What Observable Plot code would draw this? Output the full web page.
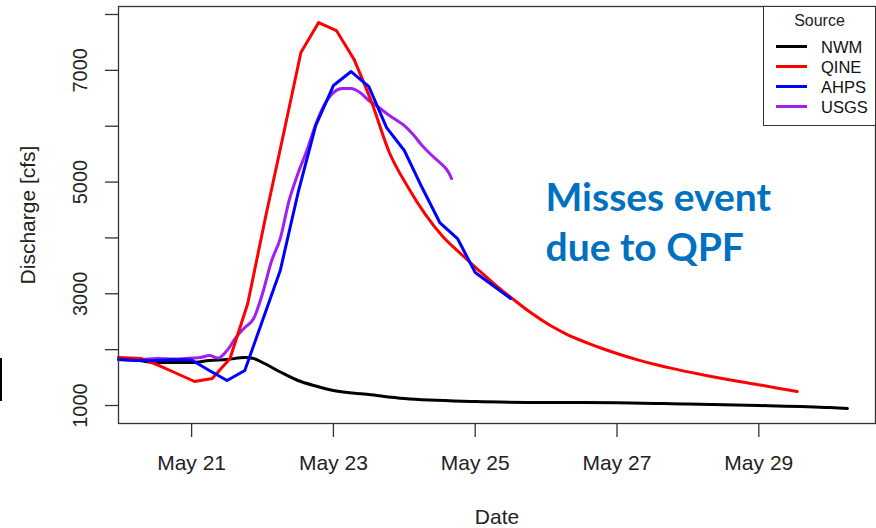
<!DOCTYPE html>
<html><head><meta charset="utf-8">
<script src="https://cdn.jsdelivr.net/npm/d3@7"></script>
<script src="https://cdn.jsdelivr.net/npm/@observablehq/plot@0.6"></script>
<style>
body{margin:0;background:#fff;}
#wrap{position:relative;width:876px;height:528px;font-family:"Liberation Sans",Arial,Helvetica,sans-serif;overflow:hidden;}
#legend{position:absolute;left:763px;top:6px;width:111px;height:118px;border:1px solid #333;background:#fff;}
.lg-title{position:absolute;left:0;width:111px;top:4px;height:20px;line-height:20px;text-align:center;font-size:16px;color:#222;}
.lg-row{position:absolute;left:0;width:111px;height:20px;}
.lg-sw{position:absolute;left:12px;width:31px;height:3px;top:8px;}
.lg-tx{position:absolute;left:57px;top:0;height:20px;line-height:20px;font-size:16.5px;color:#111;}
#bar{position:absolute;left:0;top:358px;width:2px;height:43px;background:#000;}
</style></head><body><div id="wrap"></div>
<script>
// Series names and colours
const sources = ["NWM", "QINE", "AHPS", "USGS"];
const sourceColors = ["#000000", "#ff0000", "#0000ff", "#a020f0"];

// NWM (black)
const nwmTimes = ["2019-05-19T23:15Z","2019-05-20T06:00Z","2019-05-20T12:00Z","2019-05-20T18:00Z","2019-05-21T00:00Z","2019-05-21T06:00Z","2019-05-21T12:00Z","2019-05-21T18:00Z","2019-05-21T21:00Z","2019-05-22T00:00Z","2019-05-22T06:00Z","2019-05-22T12:00Z","2019-05-22T18:00Z","2019-05-23T00:00Z","2019-05-23T12:00Z","2019-05-24T00:00Z","2019-05-25T00:00Z","2019-05-26T00:00Z","2019-05-27T00:00Z","2019-05-28T00:00Z","2019-05-29T00:00Z","2019-05-30T00:00Z","2019-05-30T06:00Z"];
const nwmValues = [1823,1805,1770,1770,1770,1805,1823,1859,1841,1770,1600,1448,1349,1268,1197,1125,1072,1054,1050,1025,1000,964,946];

// QINE (red)
const qineTimes = ["2019-05-19T23:15Z","2019-05-20T07:00Z","2019-05-20T13:00Z","2019-05-20T19:00Z","2019-05-21T01:00Z","2019-05-21T07:00Z","2019-05-21T13:00Z","2019-05-21T19:00Z","2019-05-22T01:00Z","2019-05-22T07:00Z","2019-05-22T13:00Z","2019-05-22T19:00Z","2019-05-23T01:00Z","2019-05-23T07:00Z","2019-05-23T13:00Z","2019-05-23T19:00Z","2019-05-24T01:00Z","2019-05-24T07:00Z","2019-05-24T13:00Z","2019-05-24T19:00Z","2019-05-25T01:00Z","2019-05-25T07:00Z","2019-05-25T13:00Z","2019-05-25T19:00Z","2019-05-26T01:00Z","2019-05-26T07:00Z","2019-05-26T13:00Z","2019-05-26T19:00Z","2019-05-27T01:00Z","2019-05-27T07:00Z","2019-05-27T13:00Z","2019-05-27T19:00Z","2019-05-28T01:00Z","2019-05-28T07:00Z","2019-05-28T13:00Z","2019-05-28T19:00Z","2019-05-29T01:00Z","2019-05-29T07:00Z","2019-05-29T13:00Z"];
const qineValues = [1859,1841,1716,1573,1430,1483,1841,2826,4365,5833,7319,7856,7713,7193,6420,5520,4930,4430,4025,3721,3430,3150,2897,2655,2445,2275,2140,2020,1913,1818,1734,1660,1593,1530,1470,1415,1362,1305,1250];
const qineSmoothFrom = "2019-05-23T07:00Z"; // recession limb drawn smooth

// AHPS (blue)
const ahpsTimes = ["2019-05-19T23:15Z","2019-05-20T06:00Z","2019-05-20T12:00Z","2019-05-20T18:00Z","2019-05-21T00:00Z","2019-05-21T06:00Z","2019-05-21T12:00Z","2019-05-21T18:00Z","2019-05-22T00:00Z","2019-05-22T06:00Z","2019-05-22T12:00Z","2019-05-22T18:00Z","2019-05-23T00:00Z","2019-05-23T06:00Z","2019-05-23T12:00Z","2019-05-23T18:00Z","2019-05-24T00:00Z","2019-05-24T06:00Z","2019-05-24T12:00Z","2019-05-24T18:00Z","2019-05-25T00:00Z","2019-05-25T06:00Z","2019-05-25T12:00Z"];
const ahpsValues = [1823,1805,1805,1823,1815,1627,1448,1627,2522,3416,4800,6012,6728,6979,6710,5976,5565,4902,4276,3989,3381,3148,2915];

// USGS (purple)
const usgsTimes = ["2019-05-19T23:15Z","2019-05-20T06:00Z","2019-05-20T12:00Z","2019-05-20T18:00Z","2019-05-21T00:00Z","2019-05-21T03:00Z","2019-05-21T06:00Z","2019-05-21T09:00Z","2019-05-21T12:00Z","2019-05-21T15:00Z","2019-05-21T18:00Z","2019-05-21T21:00Z","2019-05-22T00:00Z","2019-05-22T03:00Z","2019-05-22T06:00Z","2019-05-22T09:00Z","2019-05-22T12:00Z","2019-05-22T15:00Z","2019-05-22T18:00Z","2019-05-22T21:00Z","2019-05-23T00:00Z","2019-05-23T03:00Z","2019-05-23T06:00Z","2019-05-23T09:00Z","2019-05-23T12:00Z","2019-05-23T15:00Z","2019-05-23T18:00Z","2019-05-23T21:00Z","2019-05-24T00:00Z","2019-05-24T03:00Z","2019-05-24T06:00Z","2019-05-24T09:00Z","2019-05-24T12:00Z","2019-05-24T15:00Z","2019-05-24T16:00Z"];
const usgsValues = [1832,1823,1841,1832,1850,1859,1895,1850,1985,2217,2396,2557,3005,3578,3989,4670,5153,5565,6030,6388,6603,6674,6674,6603,6460,6352,6227,6119,6012,5851,5654,5493,5350,5171,5063];

// Axis ticks and labels
const xTicks = ["2019-05-21T00:00Z","2019-05-23T00:00Z","2019-05-25T00:00Z","2019-05-27T00:00Z","2019-05-29T00:00Z"];
const yTicks = [1000,2000,3000,4000,5000,6000,7000,8000];
const yLabels = [1000,3000,5000,7000];
const xTitle = "Date";
const yTitle = "Discharge [cfs]";
const legendTitle = "Source";
const annotation = "Misses event\ndue to QPF";

const rows = (name, times, values) => times.map((t, i) => ({source: name, date: new Date(t), value: values[i]}));
const cut = new Date(qineSmoothFrom);
const qineRows = rows("QINE", qineTimes, qineValues);
const smooth = [
  ...rows("NWM", nwmTimes, nwmValues).map(d => ({...d, seg: "NWM"})),
  ...rows("USGS", usgsTimes, usgsValues).map(d => ({...d, seg: "USGS"})),
  ...qineRows.filter(d => d.date >= cut).map(d => ({...d, seg: "QINE-b"}))
];
const angular = [
  ...qineRows.filter(d => d.date <= cut).map(d => ({...d, seg: "QINE-a"})),
  ...rows("AHPS", ahpsTimes, ahpsValues).map(d => ({...d, seg: "AHPS"}))
];

const font = "'Liberation Sans', Arial, Helvetica, sans-serif";

const chart = Plot.plot({
  width: 876, height: 528,
  marginLeft: 118, marginRight: 1, marginTop: 6, marginBottom: 105,
  style: {fontFamily: font, background: "white", color: "#222"},
  x: {type: "utc", domain: [new Date("2019-05-19T23:15Z"), new Date("2019-05-30T15:30Z")]},
  y: {domain: [678, 8143]},
  color: {domain: sources, range: sourceColors},
  marks: [
    Plot.axisX({ticks: xTicks.map(d => new Date(d)), tickSize: 14, tickPadding: 18, fontSize: 21, tickFormat: d3.utcFormat("%b %d"), label: null, stroke: "#333", strokeWidth: 1.3}),
    Plot.axisY({ticks: yTicks, tickSize: 13, tickFormat: () => "", label: null, stroke: "#333", strokeWidth: 1.3}),
    Plot.text(yLabels, {y: d => d, text: d => String(d), frameAnchor: "left", dx: -38, rotate: -90, textAnchor: "middle", lineAnchor: "middle", fontSize: 20, fill: "#222"}),
    Plot.text([xTitle], {frameAnchor: "bottom", dy: 94, textAnchor: "middle", lineAnchor: "middle", fontSize: 21, fill: "#222"}),
    Plot.text([yTitle], {frameAnchor: "left", dx: -90, rotate: -90, textAnchor: "middle", lineAnchor: "middle", fontSize: 21, fill: "#222"}),
    Plot.line(smooth, {x: "date", y: "value", z: "seg", stroke: "source", strokeWidth: 3, curve: "monotone-x"}),
    Plot.line(angular, {x: "date", y: "value", z: "seg", stroke: "source", strokeWidth: 3}),
    Plot.frame({stroke: "#333", strokeWidth: 1.3}),
    Plot.text([annotation], {frameAnchor: "top-left", dx: 427, dy: 254, textAnchor: "start", lineAnchor: "bottom", lineHeight: 50/39, fontSize: 39, fontWeight: "bold", fontFamily: "Lato, 'Open Sans', sans-serif", fill: "#0070c0"})
  ]
});

const wrap = document.getElementById("wrap");
wrap.appendChild(chart);

// Legend (inside plot, top right)
const lg = document.createElement("div");
lg.id = "legend";
let html = `<div class="lg-title">${legendTitle}</div>`;
sources.forEach((s, i) => {
  html += `<div class="lg-row" style="top:${30 + i * 20}px"><div class="lg-sw" style="background:${sourceColors[i]}"></div><div class="lg-tx">${s}</div></div>`;
});
lg.innerHTML = html;
wrap.appendChild(lg);

const bar = document.createElement("div");
bar.id = "bar";
wrap.appendChild(bar);
</script>
</body></html>
